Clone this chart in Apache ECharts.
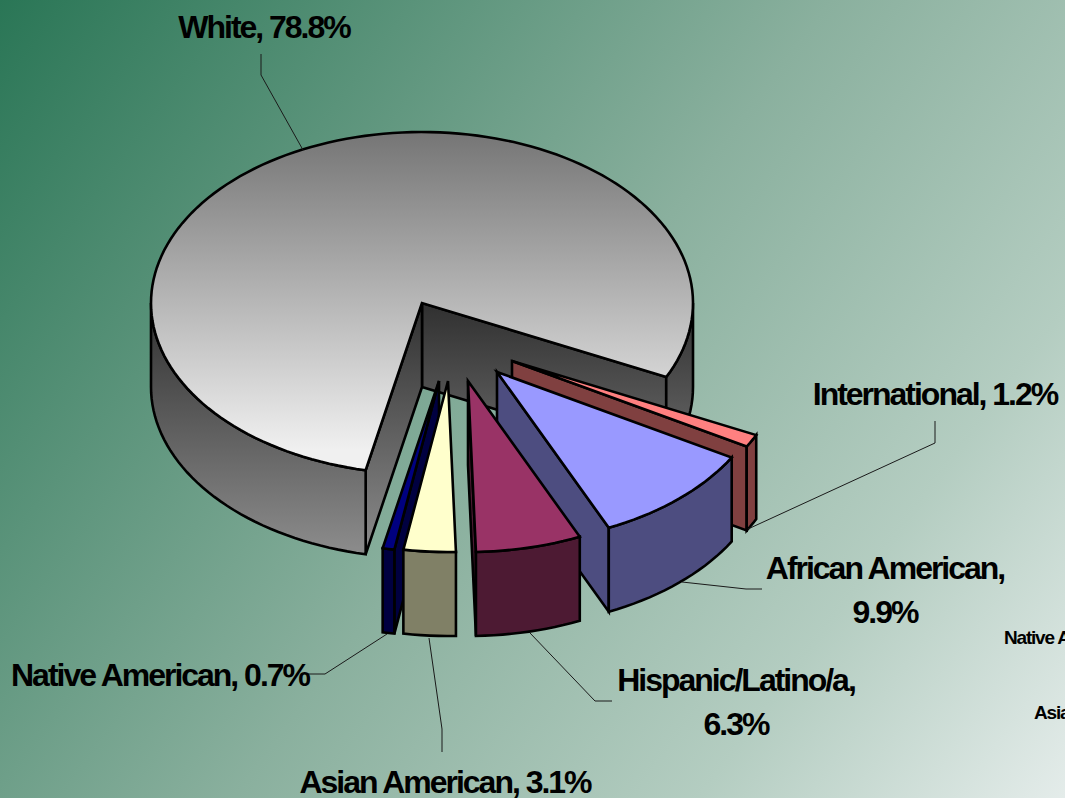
<!DOCTYPE html>
<html>
<head>
<meta charset="utf-8">
<style>
  html, body { margin: 0; padding: 0; background: #7aa08e; }
  #chart { width: 1065px; height: 798px; overflow: hidden; }
  /* tight tracking on the bold labels */
  #chart text { letter-spacing: -0.063em; }
</style>
<script src="https://cdn.jsdelivr.net/npm/echarts@6/dist/echarts.min.js"></script>
</head>
<body>
<div id="chart"></div>
<script>
// Share of enrolment by group, in percent, clockwise around the pie
const categories = ['White', 'International', 'African American', 'Hispanic/Latino/a', 'Asian American', 'Native American'];
const shares = [78.8, 1.2, 9.9, 6.3, 3.1, 0.7];
const topColors = ['#ffffff', '#ff8080', '#9999ff', '#993366', '#ffffcc', '#000080'];
const wallColors = ['#808080', '#804040', '#4d4d80', '#4d1a33', '#808066', '#000040'];

// Text cut off by the right edge of the slide
const strayText = ['Native A', 'Asia'];

// Projection of the pie: a tilted disc with a visible rim
const CX = 422, CY = 303, RX = 271, RY = 171, DEPTH = 84, START_ANGLE = 102;

// How far each wedge is pulled out of the disc (px)
const explode = [[0, 0], [90, 58], [75, 69], [46, 78], [26, 78], [17, 78]];
// Painting order: later wedges overlap earlier ones
const paintOrder = [0, 1, 2, 3, 5, 4];

// Per-label placement: centre of the text block and leader polyline
const labelPlace = [
  { x: 264, y: 27, line: [[261, 54], [261, 75], [303, 150]] },
  { x: 935, y: 394, line: [[935, 421], [935, 443], [748, 529]] },
  { x: 885, y: 590, wrap: true, line: [[762, 589], [746, 589], [682, 582]] },
  { x: 736, y: 702, wrap: true, line: [[612, 701], [595, 701], [530, 633]] },
  { x: 445, y: 782, line: [[442, 752], [442, 729], [429, 638]] },
  { x: 160, y: 675, line: [[308, 674], [325, 674], [387, 634]] }
];

const LABEL_FONT = '"Liberation Sans", Arial, sans-serif';
const OUTLINE = { stroke: '#000', lineWidth: 2.6, lineJoin: 'miter', miterLimit: 4 };

const total = shares.reduce((a, b) => a + b, 0);
const cumulative = shares.reduce((acc, v) => { acc.push(acc[acc.length - 1] + v); return acc; }, [0]);
const toAngle = v => echarts.number.linearMap(v, [0, total], [START_ANGLE, START_ANGLE + 360]);

function rimPoint(ox, oy, deg, drop) {
  const t = deg * Math.PI / 180;
  return [ox + RX * Math.cos(t), oy + RY * Math.sin(t) + (drop || 0)];
}
function arc(ox, oy, from, to, drop) {
  const n = Math.max(2, Math.ceil(Math.abs(to - from) / 2));
  const pts = [];
  for (let i = 0; i <= n; i++) pts.push(rimPoint(ox, oy, from + (to - from) * i / n, drop));
  return pts;
}
const poly = (points, fill, z2) => ({
  type: 'polygon', z2: z2, shape: { points: points }, style: Object.assign({ fill: fill }, OUTLINE)
});

const whiteTop = new echarts.graphic.LinearGradient(0, CY - RY, 0, CY + RY - 24,
  [{ offset: 0, color: '#757575' }, { offset: 1, color: '#f0f0f0' }], true);
const whiteWall = new echarts.graphic.LinearGradient(0, CY, 0, CY + RY + DEPTH - 10,
  [{ offset: 0, color: '#303030' }, { offset: 1, color: '#8a8a8a' }], true);

function renderWedge(params, api) {
  const i = params.dataIndex;
  const [dx, dy] = explode[i];
  const ox = CX + dx, oy = CY + dy;
  const a0 = toAngle(cumulative[i]);
  const a1 = toAngle(cumulative[i] + api.value(0));
  const wall = i === 0 ? whiteWall : wallColors[i];
  const top = i === 0 ? whiteTop : topColors[i];
  const base = paintOrder.indexOf(i) * 10;
  const children = [];

  // Cut faces that turn towards the viewer
  const cutFace = deg => {
    const p = rimPoint(ox, oy, deg);
    return poly([[ox, oy], p, [p[0], p[1] + DEPTH], [ox, oy + DEPTH]], wall, base + 1);
  };
  if (Math.cos(a1 * Math.PI / 180) > 0) children.push(cutFace(a1));
  if (Math.sin((a0 - 90) * Math.PI / 180) > 0) children.push(cutFace(a0));

  // Outer rim: only the part on the near half of the disc shows
  [[0, 180], [360, 540]].forEach(([lo, hi]) => {
    const from = Math.max(a0, lo), to = Math.min(a1, hi);
    if (to > from) {
      const upper = arc(ox, oy, from, to);
      const lower = arc(ox, oy, to, from, DEPTH);
      children.push(poly(upper.concat(lower), wall, base + 2));
    }
  });

  // Top face
  children.push(poly([[ox, oy]].concat(arc(ox, oy, a0, a1)), top, base + 3));

  // Leader line and label
  const place = labelPlace[i];
  children.push({
    type: 'polyline', z2: 100, shape: { points: place.line },
    style: { stroke: '#1a1a1a', lineWidth: 1, fill: null }
  });
  const sep = place.wrap ? ',\n' : ', ';
  children.push({
    type: 'text', z2: 101, x: place.x, y: place.y,
    style: {
      text: categories[i] + sep + api.value(0).toFixed(1) + '%',
      fill: '#000', align: 'center', verticalAlign: 'middle',
      font: 'bold 32px ' + LABEL_FONT, lineHeight: place.wrap ? 44 : 30
    }
  });
  return { type: 'group', children: children };
}

const chart = echarts.init(document.getElementById('chart'), null, { renderer: 'svg', width: 1065, height: 798 });
chart.setOption({
  animation: false,
  backgroundColor: new echarts.graphic.LinearGradient(0, 0, 1065, 798, [
    { offset: 0, color: '#2a7656' },
    { offset: 0.5, color: '#8ab09e' },
    { offset: 0.78, color: '#b4cdc1' },
    { offset: 1, color: '#e4ecea' }
  ], true),
  series: [{
    type: 'custom',
    coordinateSystem: 'none',
    silent: true,
    clip: false,
    renderItem: renderWedge,
    data: shares.map(v => [v])
  }],
  graphic: strayText.map((t, i) => ({
    type: 'text', silent: true,
    x: i === 0 ? 1004 : 1034, y: i === 0 ? 637 : 712,
    style: { text: t, fill: '#000', font: 'bold 19px ' + LABEL_FONT, align: 'left', verticalAlign: 'middle' }
  }))
});
</script>
</body>
</html>
